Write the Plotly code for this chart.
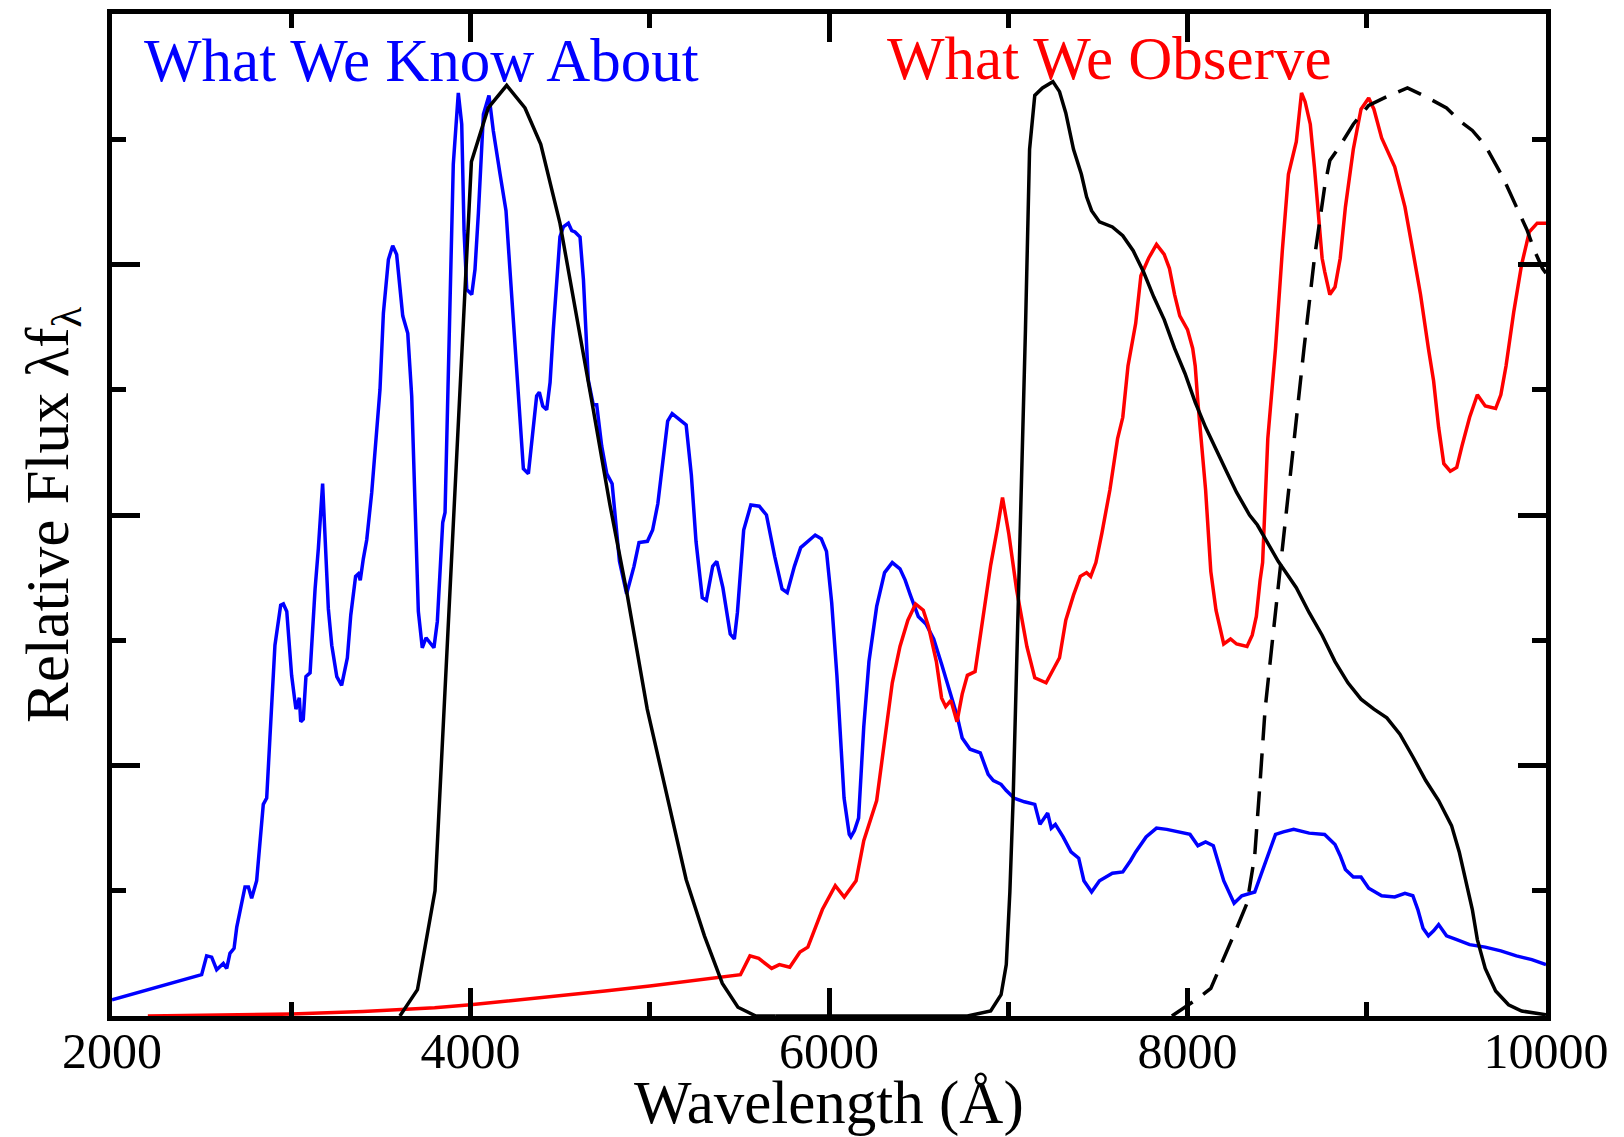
import plotly.graph_objects as go

# ---------------- data ----------------
blue_wl = [2000, 2500, 2528, 2556, 2584, 2621, 2640, 2658, 2681, 2696, 2742, 2761, 2779, 2807, 2844, 2863,
           2881, 2909, 2941, 2956, 2975, 3002, 3026, 3045, 3053, 3067, 3082, 3105, 3133, 3151, 3175, 3198,
           3207, 3226, 3254, 3281, 3313, 3332, 3359, 3374, 3385, 3402, 3421, 3449, 3477, 3495, 3514, 3542,
           3566, 3588, 3622, 3650, 3672, 3700, 3709, 3731, 3752, 3774, 3796, 3815, 3830, 3845, 3858, 3886,
           3904, 3932, 3951, 3964, 3979, 4007, 4025, 4044, 4072, 4103, 4127, 4165, 4198, 4220, 4248, 4267,
           4295, 4323, 4350, 4369, 4384, 4403, 4425, 4444, 4462, 4481, 4499, 4518, 4546, 4565, 4583, 4611,
           4630, 4657, 4685, 4704, 4732, 4760, 4790, 4831, 4871, 4912, 4940, 4987, 5016, 5045, 5073, 5100,
           5125, 5160, 5189, 5203, 5232, 5258, 5293, 5316, 5351, 5374, 5408, 5449, 5472, 5489, 5524, 5564,
           5611, 5651, 5697, 5738, 5767, 5807, 5842, 5882, 5923, 5957, 5986, 6015, 6044, 6084, 6113, 6122,
           6142, 6165, 6194, 6223, 6266, 6310, 6353, 6396, 6425, 6454, 6498, 6541, 6584, 6628, 6671, 6714,
           6743, 6787, 6844, 6888, 6917, 6960, 6989, 7032, 7090, 7148, 7177, 7220, 7240, 7263, 7306, 7350,
           7393, 7422, 7465, 7509, 7581, 7639, 7682, 7711, 7769, 7827, 7884, 7957, 8014, 8058, 8101, 8144,
           8173, 8202, 8260, 8303, 8375, 8419, 8462, 8491, 8535, 8592, 8679, 8765, 8823, 8852, 8881, 8925,
           8968, 9011, 9083, 9156, 9213, 9257, 9285, 9314, 9344, 9373, 9401, 9445, 9502, 9574, 9661, 9748,
           9835, 9921, 10000]
blue_flux = [0.13, 0.33, 0.48, 0.47, 0.37, 0.42, 0.38, 0.50, 0.54, 0.71, 1.03, 1.03, 0.94, 1.08, 1.69, 1.74,
             2.22, 2.96, 3.28, 3.29, 3.23, 2.72, 2.45, 2.54, 2.35, 2.37, 2.71, 2.74, 3.41, 3.73, 4.25, 3.62,
             3.25, 2.96, 2.71, 2.64, 2.86, 3.20, 3.51, 3.53, 3.48, 3.65, 3.80, 4.18, 4.68, 5.00, 5.61, 6.04,
             6.15, 6.08, 5.59, 5.45, 4.95, 3.62, 3.23, 2.94, 3.02, 2.98, 2.94, 3.15, 3.49, 3.94, 4.02, 5.88,
             6.80, 7.37, 7.12, 6.27, 5.80, 5.76, 5.96, 6.41, 7.20, 7.35, 7.07, 6.72, 6.43, 5.96, 5.35, 5.00,
             4.37, 4.33, 4.68, 4.95, 4.98, 4.87, 4.84, 5.06, 5.48, 5.88, 6.22, 6.30, 6.33, 6.27, 6.26, 6.22,
             5.88, 5.08, 4.88, 4.88, 4.55, 4.33, 4.25, 3.63, 3.37, 3.59, 3.78, 3.79, 3.88, 4.09, 4.45, 4.75,
             4.81, 4.77, 4.74, 4.72, 4.32, 3.79, 3.34, 3.32, 3.59, 3.63, 3.42, 3.05, 3.01, 3.22, 3.88, 4.08,
             4.07, 4.00, 3.67, 3.41, 3.38, 3.59, 3.74, 3.79, 3.84, 3.81, 3.71, 3.30, 2.72, 1.74, 1.45, 1.43,
             1.48, 1.58, 2.31, 2.83, 3.27, 3.54, 3.62, 3.57, 3.48, 3.36, 3.19, 3.13, 3.01, 2.81, 2.60, 2.40,
             2.22, 2.13, 2.10, 1.93, 1.88, 1.85, 1.80, 1.74, 1.71, 1.69, 1.53, 1.62, 1.50, 1.53, 1.43, 1.31,
             1.26, 1.08, 0.99, 1.08, 1.14, 1.15, 1.24, 1.31, 1.43, 1.50, 1.49, 1.47, 1.45, 1.36, 1.39, 1.36,
             1.23, 1.08, 0.90, 0.96, 0.99, 1.17, 1.34, 1.45, 1.47, 1.49, 1.46, 1.45, 1.37, 1.28, 1.17, 1.11,
             1.11, 1.02, 0.96, 0.95, 0.98, 0.96, 0.85, 0.70, 0.64, 0.68, 0.73, 0.64, 0.61, 0.57, 0.55, 0.52,
             0.48, 0.45, 0.41]

red_wl = [2200, 2600, 3000, 3400, 3800, 4000, 4250, 4500, 4750, 5000, 5250, 5506, 5559, 5608, 5680, 5723,
          5781, 5838, 5882, 5905, 5963, 6035, 6085, 6151, 6194, 6266, 6310, 6353, 6396, 6440, 6483, 6526,
          6555, 6599, 6628, 6651, 6680, 6714, 6743, 6772, 6815, 6844, 6873, 6902, 6939, 6968, 7003, 7047,
          7104, 7148, 7211, 7234, 7286, 7321, 7364, 7402, 7437, 7460, 7489, 7523, 7567, 7610, 7639, 7668,
          7711, 7740, 7783, 7827, 7870, 7899, 7928, 7957, 8000, 8029, 8043, 8058, 8101, 8130, 8159, 8202,
          8240, 8274, 8332, 8361, 8384, 8405, 8419, 8448, 8491, 8529, 8563, 8607, 8636, 8656, 8685, 8708,
          8731, 8751, 8766, 8794, 8823, 8852, 8881, 8925, 8968, 9011, 9040, 9083, 9156, 9213, 9257, 9300,
          9344, 9373, 9401, 9430, 9466, 9502, 9531, 9574, 9617, 9661, 9719, 9748, 9777, 9820, 9864, 9907,
          9951, 10000]
red_flux = [0.0, 0.005, 0.015, 0.035, 0.065, 0.09, 0.125, 0.16, 0.20, 0.24, 0.285, 0.33, 0.48, 0.46, 0.38, 0.41,
            0.39, 0.51, 0.55, 0.64, 0.85, 1.04, 0.95, 1.08, 1.40, 1.72, 2.22, 2.66, 2.95, 3.16, 3.29, 3.24,
            3.11, 2.83, 2.54, 2.47, 2.52, 2.35, 2.57, 2.72, 2.75, 3.04, 3.33, 3.60, 3.89, 4.14, 3.85, 3.40,
            2.95, 2.70, 2.66, 2.72, 2.86, 3.16, 3.36, 3.51, 3.54, 3.51, 3.62, 3.86, 4.20, 4.61, 4.78, 5.19,
            5.53, 5.91, 6.05, 6.16, 6.08, 5.97, 5.76, 5.59, 5.48, 5.33, 5.19, 4.90, 4.20, 3.55, 3.24, 2.97,
            3.01, 2.97, 2.95, 3.04, 3.19, 3.48, 3.62, 4.61, 5.33, 6.11, 6.72, 6.98, 7.37, 7.30, 7.12, 6.78,
            6.34, 6.05, 5.94, 5.76, 5.82, 6.05, 6.46, 6.92, 7.24, 7.33, 7.24, 7.01, 6.78, 6.46, 6.11, 5.76,
            5.33, 5.07, 4.70, 4.41, 4.35, 4.38, 4.55, 4.78, 4.96, 4.87, 4.85, 4.96, 5.19, 5.62, 6.00, 6.26,
            6.33, 6.33]

filt1_wl = [3606, 3704, 3802, 4005, 4099, 4202, 4304, 4392, 4499, 4593, 4685, 4778, 4871, 4986, 5088, 5203,
            5305, 5405, 5492, 5592, 5700]
filt1_tr = [0.0, 0.21, 1.0, 6.82, 7.25, 7.43, 7.25, 6.96, 6.33, 5.59, 4.84, 4.08, 3.39, 2.45, 1.81, 1.09,
            0.64, 0.26, 0.07, 0.0, 0.0]

filt2_wl = [5700, 6772, 6902, 6960, 6989, 7009, 7027, 7047, 7061, 7080, 7096, 7119, 7148, 7191, 7249, 7286,
            7321, 7364, 7408, 7437, 7465, 7509, 7581, 7639, 7697, 7755, 7812, 7870, 7928, 7986, 8043, 8101,
            8159, 8217, 8274, 8346, 8390, 8448, 8506, 8530, 8607, 8679, 8751, 8823, 8895, 8968, 9040, 9112,
            9185, 9257, 9329, 9401, 9473, 9516, 9560, 9589, 9617, 9661, 9719, 9791, 9864, 9951, 10000]
filt2_tr = [0.0, 0.0, 0.04, 0.17, 0.41, 0.99, 1.72, 2.75, 3.62, 4.50, 5.48, 6.92, 7.35, 7.41, 7.46, 7.38,
            7.21, 6.92, 6.72, 6.54, 6.43, 6.34, 6.30, 6.23, 6.11, 5.94, 5.74, 5.56, 5.33, 5.13, 4.90, 4.70,
            4.52, 4.35, 4.18, 4.00, 3.92, 3.77, 3.63, 3.58, 3.42, 3.22, 3.04, 2.83, 2.66, 2.53, 2.45, 2.38,
            2.25, 2.07, 1.88, 1.72, 1.52, 1.31, 1.05, 0.85, 0.61, 0.38, 0.20, 0.09, 0.04, 0.02, 0.01]

filt3_wl = [7913, 8058, 8130, 8188, 8274, 8332, 8375, 8405, 8433, 8477, 8520, 8592, 8650, 8708, 8766, 8794,
            8852, 8925, 9011, 9112, 9227, 9329, 9445, 9516, 9589, 9661, 9762, 9835, 9893, 9936, 9980, 10000]
filt3_tr = [0.0, 0.14, 0.22, 0.41, 0.70, 0.90, 1.28, 1.87, 2.45, 3.04, 3.62, 4.61, 5.33, 6.05, 6.63, 6.83,
            6.95, 7.12, 7.27, 7.34, 7.41, 7.34, 7.25, 7.15, 7.07, 6.95, 6.69, 6.46, 6.28, 6.11, 5.97, 5.93]

x_tickvals = [2000, 4000, 6000, 8000, 10000]
x_ticktext = ["2000", "4000", "6000", "8000", "10000"]

# ---------------- figure ----------------
FONT = "Liberation Serif"
LW = 3.5
fig = go.Figure()
fig.add_trace(go.Scatter(x=blue_wl, y=blue_flux, mode="lines", line=dict(color="#0000ff", width=LW)))
fig.add_trace(go.Scatter(x=red_wl, y=red_flux, mode="lines", line=dict(color="#ff0000", width=LW)))
fig.add_trace(go.Scatter(x=filt1_wl, y=filt1_tr, mode="lines", line=dict(color="black", width=LW)))
fig.add_trace(go.Scatter(x=filt2_wl, y=filt2_tr, mode="lines", line=dict(color="black", width=LW)))
fig.add_trace(go.Scatter(x=filt3_wl, y=filt3_tr, mode="lines",
                         line=dict(color="black", width=LW, dash="25px,13px")))

fig.update_xaxes(range=[2000, 10000], showline=True, linewidth=4.5, linecolor="black", mirror="ticks",
                 ticks="inside", ticklen=28, tickwidth=4.5, tickcolor="black",
                 tickvals=x_tickvals, ticktext=x_ticktext, ticklabelstandoff=-13,
                 minor=dict(dtick=1000, tick0=2000, ticks="inside", ticklen=14, tickwidth=4.5, tickcolor="black"),
                 showgrid=False, zeroline=False,
                 tickfont=dict(family=FONT, size=50, color="black"))
fig.update_yaxes(range=[0, 8], showline=True, linewidth=4.5, linecolor="black", mirror="ticks",
                 ticks="inside", ticklen=28, tickwidth=4.5, tickcolor="black",
                 dtick=2, tick0=0, showticklabels=False,
                 minor=dict(dtick=1, tick0=0, ticks="inside", ticklen=14, tickwidth=4.5, tickcolor="black"),
                 showgrid=False, zeroline=False)

fig.add_annotation(text="What We Know About", x=2167, y=7.63, xref="x", yref="y",
                   xanchor="left", yanchor="middle", showarrow=False,
                   font=dict(family=FONT, size=61, color="#0000ff"))
fig.add_annotation(text="What We Observe", x=6314, y=7.645, xref="x", yref="y",
                   xanchor="left", yanchor="middle", showarrow=False,
                   font=dict(family=FONT, size=61, color="#ff0000"))
fig.add_annotation(text="Wavelength (Å)", x=0.5, y=0, xref="paper", yref="paper",
                   xanchor="center", yanchor="middle", yshift=-87, showarrow=False,
                   font=dict(family=FONT, size=61, color="black"))
fig.add_annotation(text="Relative Flux λf<sub>λ</sub>", x=0, y=0.5, xref="paper", yref="paper",
                   xanchor="center", yanchor="middle", xshift=-60, textangle=-90, showarrow=False,
                   font=dict(family=FONT, size=61, color="black"))

# page body has an 8px margin, so the figure is sized/offset to land the plot box where the reference has it
fig.update_layout(width=1616, height=1129, showlegend=False,
                  paper_bgcolor="white", plot_bgcolor="white",
                  margin=dict(l=104, r=78, t=1, b=121))

fig.write_html("out.html")
